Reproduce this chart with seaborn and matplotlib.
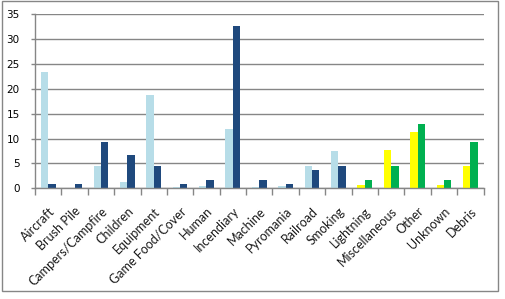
import matplotlib
matplotlib.use("Agg")
import matplotlib.pyplot as plt
import seaborn as sns
import pandas as pd
import numpy as np
from matplotlib.patches import Rectangle

categories = ["Aircraft", "Brush Pile", "Campers/Campfire", "Children", "Equipment",
              "Game Food/Cover", "Human", "Incendiary", "Machine", "Pyromania",
              "Railroad", "Smoking", "Lightning", "Miscellaneous", "Other",
              "Unknown", "Debris"]
series1 = [23.3, 0.0, 4.5, 1.3, 18.8, 0.3, 0.5, 12.0, 0.3, 0.5, 4.5, 7.5,
           0.6, 7.7, 11.3, 0.6, 4.5]
series2 = [0.9, 0.9, 9.4, 6.6, 4.5, 0.9, 1.7, 32.7, 1.7, 0.9, 3.7, 4.5,
           1.7, 4.5, 13.0, 1.7, 9.4]
y_ticks = [0, 5, 10, 15, 20, 25, 30, 35]

# first 12 categories: blue pair; last 5: yellow/green pair
c1 = ["#B7DDE8"] * 12 + ["#FFFF00"] * 5
c2 = ["#1F497D"] * 12 + ["#00B050"] * 5

sns.set_style("white")

df = pd.DataFrame({
    "category": categories * 2,
    "value": series1 + series2,
    "series": ["s1"] * len(categories) + ["s2"] * len(categories),
})

fig = plt.figure(figsize=(5.05, 2.99), dpi=100)
W, H = 505, 299
ax = fig.add_axes([35 / W, 1 - 188.3 / H, (483.5 - 35) / W, (188.3 - 14.3) / H])

sns.barplot(data=df, x="category", y="value", hue="series", order=categories,
            hue_order=["s1", "s2"], palette=["#B7DDE8", "#1F497D"],
            width=0.56, gap=0, ax=ax, legend=False, linewidth=0,
            saturation=1)

n = len(categories)
bars = [p for p in ax.patches if isinstance(p, Rectangle)]
for i, p in enumerate(bars[:2 * n]):
    s = i // n
    k = i % n
    p.set_facecolor(c1[k] if s == 0 else c2[k])
    p.set_edgecolor("none")

gridc = "#868686"
ax.set_ylim(0, 35)
ax.set_xlim(-0.5, n - 0.5)
ax.set_yticks(y_ticks)
ax.set_yticklabels([str(t) for t in y_ticks], fontsize=7.5, family="DejaVu Sans",
                   color="#000000")
ax.yaxis.grid(True, color=gridc, linewidth=1.0)
ax.set_axisbelow(True)
ax.tick_params(axis="y", length=3, width=1.0, color=gridc, pad=8, direction="out",
               left=True)

ax.set_xticks(range(n))
ax.set_xticklabels(categories, rotation=45, ha="right", rotation_mode="anchor",
                   fontsize=9, family="Lato", color="#1a1a1a")
ax.set_xticks(np.arange(-0.5, n, 1.0), minor=True)
ax.tick_params(axis="x", which="major", length=0, pad=12)
ax.tick_params(axis="x", which="minor", length=5, width=1.0, color=gridc,
               direction="out", bottom=True)

for side in ["top", "right"]:
    ax.spines[side].set_visible(False)
ax.spines["left"].set_color(gridc)
ax.spines["left"].set_linewidth(1.0)
ax.spines["bottom"].set_color(gridc)
ax.spines["bottom"].set_linewidth(1.0)
ax.set_xlabel("")
ax.set_ylabel("")

fig.patches.append(Rectangle((1.5 / W, 1 - 291 / H), (498 - 1.5) / W, (291 - 1) / H,
                             transform=fig.transFigure, fill=False,
                             edgecolor=gridc, linewidth=1.0))

fig.savefig("out.png", dpi=100)
